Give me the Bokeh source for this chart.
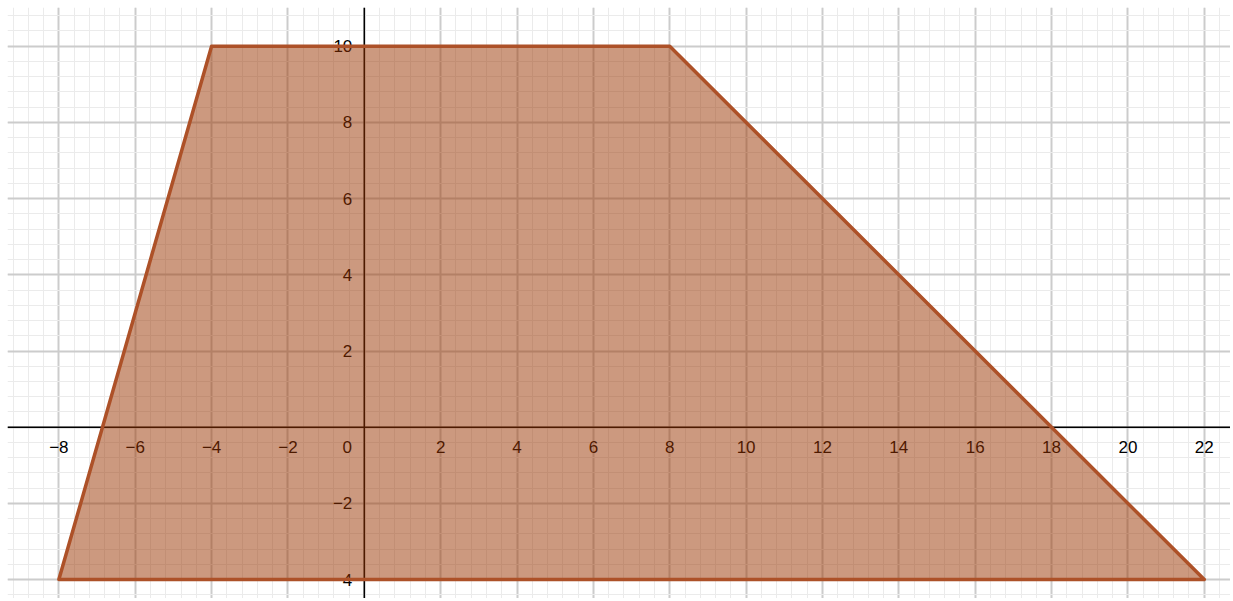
from bokeh.plotting import figure
from bokeh.models import Range1d, Grid, FixedTicker, Span, ColumnDataSource
from bokeh.core.properties import value
from bokeh.embed import file_html
from bokeh.resources import INLINE

# ---- data ----
vertex_x = [-8, -4, 8, 22]
vertex_y = [-4, 10, 10, -4]

x_ticks = [-8, -6, -4, -2, 2, 4, 6, 8, 10, 12, 14, 16, 18, 20, 22]
x_tick_labels = ["\u22128", "\u22126", "\u22124", "\u22122", "2", "4", "6", "8", "10",
                 "12", "14", "16", "18", "20", "22"]
y_ticks = [-4, -2, 2, 4, 6, 8, 10]
y_tick_labels = ["\u22124", "\u22122", "2", "4", "6", "8", "10"]

major_x = list(range(-10, 24, 2))
major_y = list(range(-6, 14, 2))
minor_x = [round(-10 + 0.4 * i, 2) for i in range(0, 90)]
minor_y = [round(-6 + 0.4 * i, 2) for i in range(0, 50)]

FONT = "Liberation Sans"

p = figure(width=1230, height=598, output_backend="svg", toolbar_location=None,
           x_range=Range1d(-9.345, 22.687), y_range=Range1d(-4.496, 11.016),
           x_axis_type=None, y_axis_type=None,
           min_border_left=7, min_border_top=7, min_border_right=0, min_border_bottom=0,
           background_fill_color="white", border_fill_color="white")
p.outline_line_color = None

for dim, majors, minors in ((0, major_x, minor_x), (1, major_y, minor_y)):
    g = Grid(dimension=dim, ticker=FixedTicker(ticks=majors, minor_ticks=minors),
             grid_line_color="#cccccc", grid_line_width=2,
             minor_grid_line_color="#ebebeb", minor_grid_line_width=1)
    p.add_layout(g)

p.add_layout(Span(location=0, dimension="width", line_color="black", line_width=1.5, level="underlay"))
p.add_layout(Span(location=0, dimension="height", line_color="black", line_width=1.5, level="underlay"))

xs = ColumnDataSource(dict(x=x_ticks, y=[0] * len(x_ticks), t=x_tick_labels))
p.text(x="x", y="y", text="t", source=xs, text_align="center", text_baseline="middle",
       y_offset=20, text_font=value(FONT), text_font_size="17px", text_color="black")

ys = ColumnDataSource(dict(x=[0] * len(y_ticks), y=y_ticks, t=y_tick_labels))
p.text(x="x", y="y", text="t", source=ys, text_align="right", text_baseline="middle",
       x_offset=-12, text_font=value(FONT), text_font_size="17px", text_color="black")

zs = ColumnDataSource(dict(x=[0], y=[0], t=["0"]))
p.text(x="x", y="y", text="t", source=zs, text_align="center", text_baseline="middle",
       x_offset=-17, y_offset=20, text_font=value(FONT), text_font_size="17px", text_color="black")

p.patch(vertex_x, vertex_y, fill_color="#993300", fill_alpha=0.5,
        line_color="#AD5128", line_width=3.5, line_join="round")

open("out.html", "w").write(file_html(p, INLINE))
